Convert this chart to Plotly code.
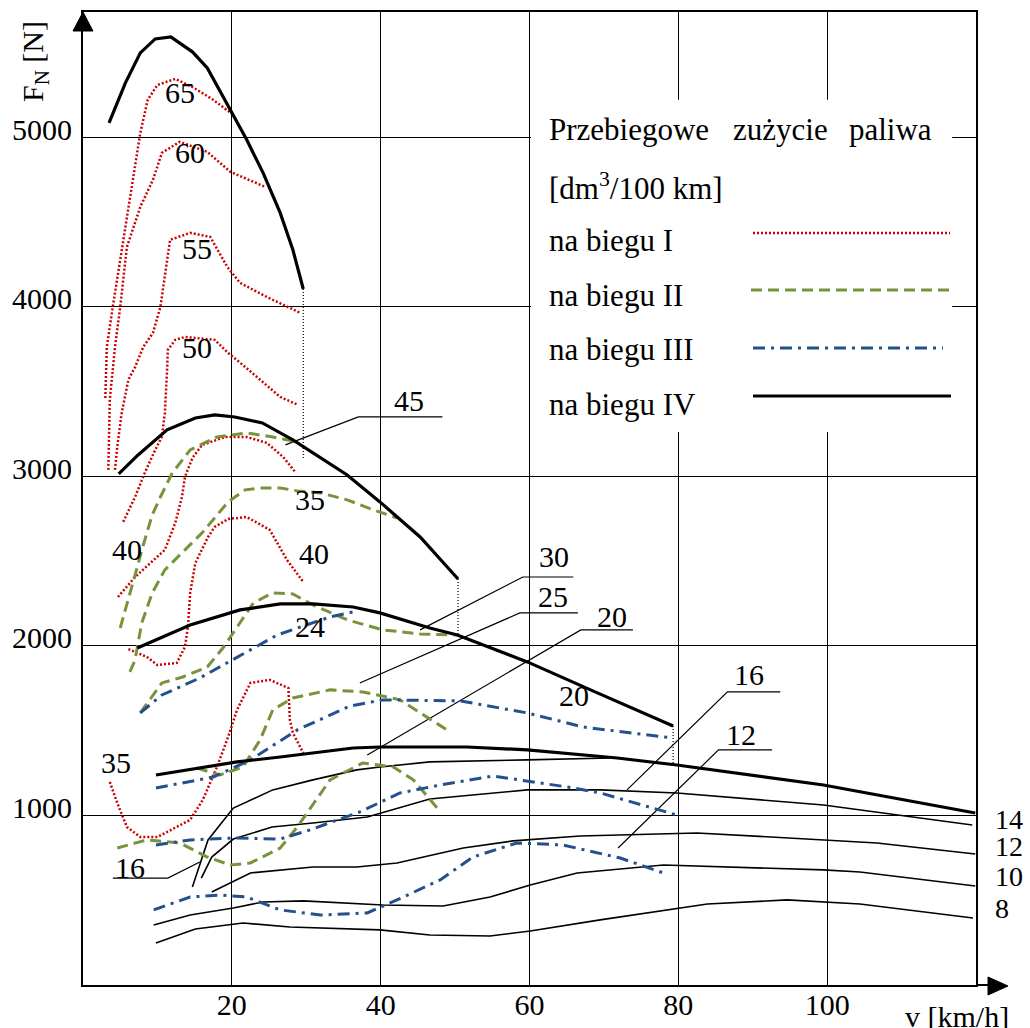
import plotly.graph_objects as go

# ---------------- data (v in km/h, F_N in N) ----------------
# Gear IV - thick black envelope curves
iv_a_v = [3.5, 5.7, 7.7, 9.7, 11.8, 14.7, 16.7, 20.2, 22.0, 24.2, 26.5, 28.2, 29.6]
iv_a_f = [5086, 5322, 5499, 5581, 5593, 5505, 5410, 5133, 4986, 4791, 4555, 4337, 4106]
iv_b_v = [4.8, 7.4, 11.3, 15.1, 17.7, 20.4, 24.1, 28.2, 35.5, 39.9, 45.3, 50.4]
iv_b_f = [3015, 3127, 3275, 3345, 3363, 3351, 3316, 3216, 3009, 2850, 2643, 2395]
iv_c_v = [7.3, 14.4, 21.1, 26.5, 30.9, 36.3, 39.9, 46.6, 50.3, 59.7, 68.2, 79.3]
iv_c_f = [1988, 2124, 2213, 2248, 2248, 2230, 2195, 2106, 2065, 1906, 1741, 1528]
iv_d_v = [9.8, 20.7, 26.5, 36.3, 39.9, 51.6, 59.7, 71.8, 79.8, 99.5, 119.9]
iv_d_f = [1239, 1316, 1345, 1398, 1404, 1404, 1387, 1339, 1298, 1180, 1015]

# drop (dotted) lines at the end of envelope curves
drop_v = [29.6, 50.4, 79.3]
drop_top = [4106, 2395, 1528]
drop_bottom = [3098, 2065, 1298]

# Gear IV - thin black consumption curves
t1_v = [14.7, 16.8, 20.2, 25.5, 30.9, 36.8, 39.9, 46.6, 59.7, 70.8]
t1_f = [578, 856, 1044, 1151, 1210, 1269, 1286, 1316, 1328, 1339]
t2_v = [15.9, 17.3, 20.2, 25.4, 30.9, 38.2, 46.6, 59.7, 69.5, 79.8, 99.5, 119.5]
t2_f = [631, 755, 861, 932, 956, 991, 1097, 1151, 1151, 1133, 1062, 944]
t3_v = [17.3, 22.5, 30.9, 36.8, 42.2, 51.1, 57.8, 66.8, 82.5, 99.5, 106.7, 119.9]
t3_f = [549, 661, 696, 696, 720, 808, 850, 879, 897, 856, 838, 773]
t4_v = [9.5, 14.4, 20.2, 24.2, 29.6, 40.3, 48.4, 54.7, 60.1, 66.4, 78.0, 99.5, 104.4, 119.9]
t4_f = [354, 413, 454, 490, 496, 472, 466, 519, 590, 661, 708, 679, 667, 584]
t5_v = [9.8, 15.1, 21.5, 27.8, 39.9, 46.6, 54.7, 60.1, 69.5, 83.9, 94.6, 104.4, 119.6]
t5_f = [248, 330, 366, 342, 325, 295, 289, 319, 384, 478, 502, 478, 395]

# Gear III - blue dash-dot
b1_v = [7.7, 10.6, 15.7, 20.7, 26.1, 29.2, 33.2, 36.3]
b1_f = [1605, 1711, 1811, 1935, 2065, 2112, 2171, 2201]
b2_v = [9.8, 17.5, 22.5, 28.8, 35.9, 40.3, 50.7, 59.7, 67.2, 79.3]
b2_f = [1162, 1227, 1328, 1505, 1646, 1682, 1676, 1605, 1522, 1457]
b3_v = [9.8, 14.4, 20.2, 26.5, 30.5, 37.2, 42.6, 48.0, 55.1, 65.1, 69.5, 79.8]
b3_f = [826, 856, 867, 861, 915, 1021, 1133, 1180, 1233, 1168, 1133, 1003]
b4_v = [9.5, 14.4, 18.4, 22.0, 26.5, 31.9, 38.2, 42.2, 48.0, 52.4, 58.3, 64.5, 72.2, 78.0]
b4_f = [443, 519, 531, 519, 443, 413, 425, 502, 620, 755, 838, 826, 749, 661]

# Gear II - green dashed
g1_v = [5.0, 6.1, 7.0, 8.1, 9.3, 10.4, 12.0, 14.4, 18.0, 22.0, 25.5, 28.8]
g1_f = [2106, 2272, 2419, 2596, 2773, 2879, 3021, 3157, 3233, 3257, 3233, 3204]
g2_v = [6.3, 7.0, 7.3, 7.9, 9.3, 11.0, 13.7, 16.0, 19.5, 21.8, 23.8, 26.5, 28.8, 31.9, 35.5, 39.0, 42.2]
g2_f = [1847, 1918, 1994, 2136, 2313, 2449, 2567, 2667, 2850, 2921, 2932, 2932, 2915, 2903, 2862, 2803, 2755]
g3_v = [7.7, 10.6, 13.4, 16.7, 18.8, 20.7, 22.9, 25.5, 28.2, 30.9, 35.5, 40.3, 45.3, 50.3]
g3_f = [1605, 1782, 1817, 1876, 1988, 2112, 2254, 2313, 2307, 2242, 2154, 2095, 2071, 2065]
g4_v = [15.3, 18.4, 21.5, 23.8, 25.5, 28.2, 33.2, 37.6, 42.6, 46.2, 48.9]
g4_f = [1280, 1239, 1286, 1446, 1623, 1693, 1741, 1729, 1682, 1581, 1505]
g5_v = [4.6, 8.6, 13.0, 16.7, 19.8, 22.5, 26.5, 28.8, 33.2, 37.6, 41.7, 44.4, 47.6]
g5_f = [808, 856, 838, 755, 708, 720, 808, 932, 1210, 1310, 1286, 1210, 1044]

# Gear I - red dotted
r65_v = [3.0, 3.2, 4.0, 5.7, 7.3, 7.7, 8.7, 10.0, 12.4, 14.7, 17.5, 20.2]
r65_f = [3463, 3764, 4000, 4472, 4944, 5027, 5222, 5310, 5345, 5298, 5222, 5133]
r60_v = [3.4, 3.6, 4.3, 5.0, 5.9, 7.7, 9.4, 10.6, 13.0, 16.7, 19.8, 24.5]
r60_f = [3039, 3452, 3764, 4000, 4354, 4590, 4750, 4909, 4974, 4915, 4797, 4708]
r55_v = [4.3, 4.6, 5.2, 6.1, 7.0, 8.1, 9.4, 10.4, 11.7, 14.4, 17.1, 19.4, 21.1, 24.7, 29.2]
r55_f = [3039, 3174, 3375, 3570, 3646, 3764, 3847, 4000, 4396, 4437, 4413, 4236, 4142, 4059, 3965]
r50_v = [5.4, 7.0, 8.3, 9.7, 10.6, 11.0, 11.3, 11.4, 12.4, 13.7, 17.7, 19.5, 21.8, 23.8, 26.5, 28.9]
r50_f = [2732, 2879, 3021, 3157, 3233, 3375, 3629, 3747, 3806, 3823, 3806, 3729, 3646, 3570, 3469, 3422]
r45_v = [4.7, 7.0, 11.0, 12.4, 13.3, 13.7, 14.7, 16.0, 19.1, 22.0, 24.7, 26.9, 28.5]
r45_f = [2289, 2407, 2567, 2726, 2879, 2997, 3109, 3186, 3233, 3233, 3198, 3115, 3027]
r40_v = [6.1, 8.6, 10.0, 12.6, 13.7, 14.1, 14.4, 15.1, 16.8, 17.7, 19.5, 22.0, 25.1, 27.4, 29.6]
r40_f = [1982, 1935, 1888, 1900, 1994, 2112, 2313, 2490, 2643, 2702, 2749, 2761, 2685, 2508, 2378]
r35_v = [3.6, 4.6, 5.9, 7.7, 10.0, 14.4, 16.1, 18.0, 19.5, 20.7, 22.5, 25.1, 27.6, 27.8, 28.2, 29.6]
r35_f = [1198, 1074, 932, 873, 873, 974, 1092, 1286, 1463, 1623, 1782, 1800, 1752, 1564, 1487, 1369]

# leader lines (thin black)
leaders = {
    "45": ([27.2, 37.0, 48.3], [3186, 3351, 3351]),
    "30": ([45.3, 59.1, 65.9], [2095, 2407, 2407]),
    "25": ([37.2, 58.7, 66.5], [1782, 2195, 2195]),
    "20": ([38.2, 66.9, 73.9], [1357, 2095, 2095]),
    "16r": ([73.1, 86.6, 93.7], [1151, 1729, 1729]),
    "12r": ([71.9, 85.4, 92.6], [808, 1387, 1387]),
    "16l": ([15.7, 11.4, 4.0], [726, 631, 631]),
}

# curve labels (text, v, F)
label_text = ["65", "60", "55", "50", "45", "40", "35", "40", "24", "30", "25", "20", "20", "16", "12", "35", "16"]
label_v = [13.0, 14.4, 15.3, 15.3, 43.8, 5.9, 30.5, 31.1, 30.5, 63.3, 63.2, 71.1, 66.0, 89.5, 88.4, 4.4, 6.3]
label_f = [5263, 4909, 4342, 3758, 3446, 2572, 2862, 2543, 2112, 2525, 2289, 2171, 1705, 1829, 1475, 1310, 696]

# right-side labels of thin gear IV curves
right_text = ["14", "12", "10", "8"]
right_f = [979, 820, 643, 454]

x_ticks = [20, 40, 60, 80, 100]
y_ticks = [1000, 2000, 3000, 4000, 5000]

# legend box (hides the grid), in axis units
legend_box_v = [60.2, 116.8]
legend_box_f = [3263, 5222]

# ---------------- styling ----------------
FONT = "Liberation Serif"
RED = "#cc0000"
GREEN = "#77933c"
BLUE = "#24508c"
BLACK = "#000000"

W, H = 1030, 1028
ML, MR, MT, MB = 83, 54, 12, 43
PW, PH = W - ML - MR, H - MT - MB


def px(xp):
    return (xp - ML) / PW


def py(yp):
    return (H - MB - yp) / PH


fig = go.Figure()


def add(v, f, color, width, dash="solid"):
    fig.add_trace(go.Scatter(x=v, y=f, mode="lines", showlegend=False, hoverinfo="skip",
                             line=dict(color=color, width=width, dash=dash)))


RDOT = "2px,2px"
GDASH = "11px,6px"
BDD = "12px,6px,3px,6px"

for v, f in [(t1_v, t1_f), (t2_v, t2_f), (t3_v, t3_f), (t4_v, t4_f), (t5_v, t5_f)]:
    add(v, f, BLACK, 1.6)
for k, (v, f) in leaders.items():
    add(v, f, BLACK, 1.2)
for dv, a, b in zip(drop_v, drop_top, drop_bottom):
    add([dv, dv], [a, b], BLACK, 1.2, "1px,2px")
for v, f in [(r65_v, r65_f), (r60_v, r60_f), (r55_v, r55_f), (r50_v, r50_f),
             (r45_v, r45_f), (r40_v, r40_f), (r35_v, r35_f)]:
    add(v, f, RED, 2.5, RDOT)
for v, f in [(g1_v, g1_f), (g2_v, g2_f), (g3_v, g3_f), (g4_v, g4_f), (g5_v, g5_f)]:
    add(v, f, GREEN, 3, GDASH)
for v, f in [(b1_v, b1_f), (b2_v, b2_f), (b3_v, b3_f), (b4_v, b4_f)]:
    add(v, f, BLUE, 3, BDD)
for v, f in [(iv_a_v, iv_a_f), (iv_b_v, iv_b_f), (iv_c_v, iv_c_f), (iv_d_v, iv_d_f)]:
    add(v, f, BLACK, 3.2)

annotations = []
for t, v, f in zip(label_text, label_v, label_f):
    annotations.append(dict(x=v, y=f, xref="x", yref="y", text=t, showarrow=False,
                            xanchor="center", yanchor="middle",
                            font=dict(family=FONT, size=30, color=BLACK)))
for t, f in zip(right_text, right_f):
    annotations.append(dict(x=px(993), y=f, xref="paper", yref="y", text=t, showarrow=False,
                            xanchor="left", yanchor="middle",
                            font=dict(family=FONT, size=28, color=BLACK)))

# axis titles
annotations.append(dict(x=px(35), y=py(62), xref="paper", yref="paper", text="F<sub>N</sub> [N]",
                        textangle=-90, showarrow=False, xanchor="center", yanchor="middle",
                        font=dict(family=FONT, size=30, color=BLACK)))
annotations.append(dict(x=px(957), y=py(1016), xref="paper", yref="paper", text="v [km/h]",
                        showarrow=False, xanchor="center", yanchor="middle",
                        font=dict(family=FONT, size=30, color=BLACK)))

# legend texts
LX = px(547)
leg_font = dict(family=FONT, size=31, color=BLACK)


def leg(text, x, y):
    return dict(x=x, y=py(y), xref="paper", yref="paper", text=text, xanchor="left",
                yanchor="middle", showarrow=False, font=leg_font)


annotations += [
    leg("Przebiegowe", LX, 129),
    leg("zużycie", px(731), 129),
    leg("paliwa", px(847), 129),
    leg("[dm<sup>3</sup>/100 km]", LX, 186),
    leg("na biegu I", LX, 240),
    leg("na biegu II", LX, 295),
    leg("na biegu III", LX, 350),
    leg("na biegu IV", LX, 404),
]

shapes = [
    # legend white box hiding the grid (between grid and traces)
    dict(type="rect", xref="x", yref="y", x0=legend_box_v[0], x1=legend_box_v[1],
         y0=legend_box_f[0], y1=legend_box_f[1],
         fillcolor="white", line=dict(width=0), layer="between"),
    # legend samples
    dict(type="line", xref="paper", yref="paper", x0=px(753), x1=px(950), y0=py(233), y1=py(233),
         line=dict(color=RED, width=2.5, dash=RDOT)),
    dict(type="line", xref="paper", yref="paper", x0=px(751), x1=px(949), y0=py(290), y1=py(290),
         line=dict(color=GREEN, width=3, dash=GDASH)),
    dict(type="line", xref="paper", yref="paper", x0=px(753), x1=px(943), y0=py(348), y1=py(348),
         line=dict(color=BLUE, width=3, dash=BDD)),
    dict(type="line", xref="paper", yref="paper", x0=px(753), x1=px(951), y0=py(396), y1=py(396),
         line=dict(color=BLACK, width=3)),
    # axis arrows
    dict(type="line", xref="paper", yref="paper", x0=1.0, x1=px(990), y0=0, y1=0,
         line=dict(color=BLACK, width=2)),
    dict(type="path", xref="paper", yref="paper",
         path=f"M {px(988)},{py(977)} L {px(1008)},{py(986)} L {px(988)},{py(995)} Z",
         fillcolor=BLACK, line=dict(color=BLACK, width=1)),
    dict(type="path", xref="paper", yref="paper",
         path=f"M {px(73)},{py(31)} L {px(83)},{py(12)} L {px(93)},{py(31)} Z",
         fillcolor=BLACK, line=dict(color=BLACK, width=1)),
]

axis_font = dict(family=FONT, size=30, color=BLACK)
fig.update_layout(
    width=W, height=H,
    margin=dict(l=ML, r=MR, t=MT, b=MB, pad=0, autoexpand=False),
    paper_bgcolor="white", plot_bgcolor="white",
    showlegend=False,
    annotations=annotations,
    shapes=shapes,
    xaxis=dict(range=[0, 120], tickvals=x_ticks, ticktext=[str(t) for t in x_ticks],
               showgrid=True, gridcolor=BLACK, gridwidth=1.3, zeroline=False,
               showline=True, linecolor=BLACK, linewidth=2, mirror=True, automargin=False,
               ticks="", ticklen=0, tickfont=axis_font, ticklabelstandoff=-8),
    yaxis=dict(range=[0, 5740], tickvals=y_ticks, ticktext=[str(t) for t in y_ticks],
               showgrid=True, gridcolor=BLACK, gridwidth=1.3, zeroline=False,
               showline=True, linecolor=BLACK, linewidth=2, mirror=True, automargin=False,
               ticks="", ticklen=0, tickfont=axis_font, ticklabelstandoff=3, ticklabelshift=-8),
)

fig.write_html("out.html")
